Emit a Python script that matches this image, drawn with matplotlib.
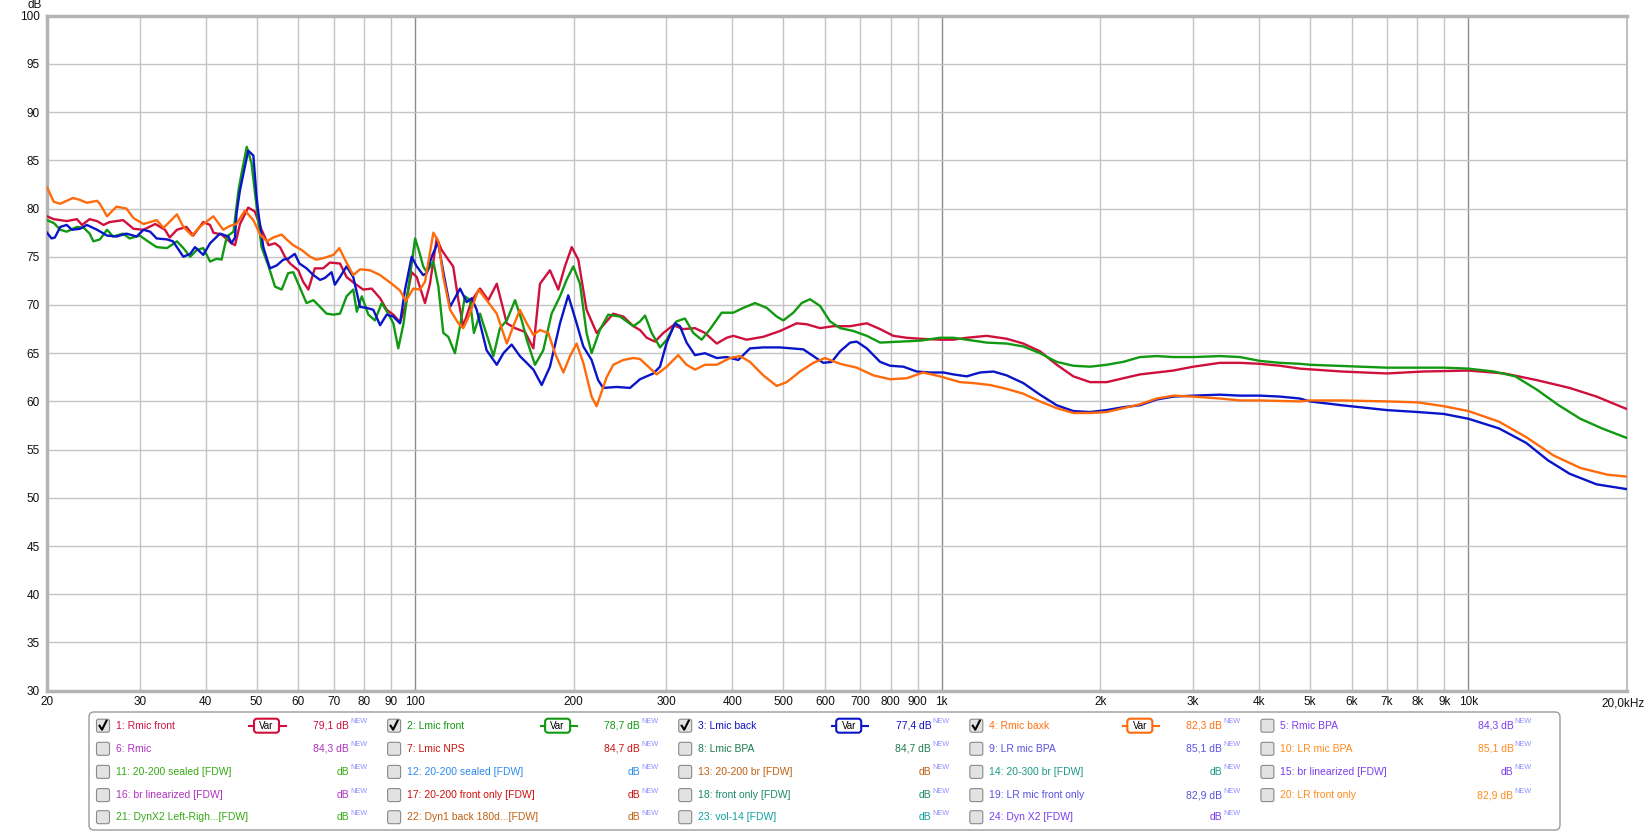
import matplotlib.pyplot as plt
from matplotlib.patches import FancyBboxPatch
from matplotlib.ticker import NullLocator

W, H = 1649, 832

# measured curves, (Hz, dB)
rmic_front = [(20.0,79.2),(20.6,78.9),(21.8,78.7),(22.8,78.9),(23.3,78.3),(24.1,78.9),(24.9,78.7),(25.6,78.3),
    (26.3,78.6),(27.9,78.8),(29.2,77.9),(30.5,77.8),(32.1,78.4),(33.5,77.8),(34.2,77.0),(35.3,77.8),(36.8,78.1),
    (37.9,77.2),(39.6,78.6),(40.8,78.3),(41.4,77.5),(42.9,77.3),(44.8,76.4),(45.5,76.2),(46.5,78.4),(48.2,80.1),
    (49.6,79.7),(51.1,77.8),(52.7,76.2),(54.2,76.4),(55.4,76.0),(56.6,75.0),(57.9,74.3),(60.0,73.6),(61.3,72.4),
    (62.7,71.6),(64.5,73.8),(66.9,73.8),(68.9,74.4),(72.0,74.3),(74.1,72.9),(76.9,72.2),(79.7,71.6),(82.7,71.7),
    (85.8,70.7),(88.3,69.5),(90.9,69.0),(93.6,68.2),(95.7,69.8),(98.5,73.4),(100.7,72.9),(104.4,70.2),(106.7,72.2),
    (109.9,76.9),(112.3,75.7),(115.6,74.7),(118.1,74.0),(120.8,70.5),(123.4,67.8),(128.1,70.5),(132.8,71.7),
    (137.7,70.5),(142.9,72.2),(149.3,68.1),(154.8,67.6),(161.7,67.2),(167.7,65.5),(172.6,72.2),(180.3,73.6),
    (187.0,71.6),(192.5,74.0),(198.3,76.0),(204.1,74.7),(211.6,69.5),(221.1,67.1),(227.6,67.9),(237.8,69.1),
    (248.5,68.8),(259.7,67.8),(267.3,67.4),(275.3,66.6),(285.4,66.2),(296.0,67.1),(309.2,67.9),(323.0,67.5),
    (339.9,67.6),(355.1,67.1),(373.8,66.0),(390.5,66.6),(401.9,66.8),(426.1,66.4),(458.2,66.7),(492.9,67.3),
    (530.3,68.1),(554.1,68.0),(587.3,67.6),(622.3,67.8),(669.8,67.8),(720.5,68.1),(763.6,67.5),(809.3,66.8),
    (857.6,66.6),(908.9,66.5),(992,66.4),(1052,66.4),(1115,66.6),(1217,66.8),(1328,66.5),(1428,66.0),(1536,65.2),
    (1653,63.8),(1777,62.6),(1912,62.0),(2056,62.0),(2211,62.4),(2378,62.8),(2558,63.0),(2751,63.2),(3002,63.6),
    (3373,64.0),(3682,64.0),(4018,63.9),(4386,63.7),(4786,63.4),(5750,63.1),(7000,62.9),(8200,63.1),(10000,63.2),
    (11700,62.9),(13500,62.2),(15560,61.4),(17510,60.5),(20000,59.2)]

lmic_front = [(20.0,78.8),(20.6,78.5),(21.2,77.8),(21.8,77.6),(22.8,78.1),(23.5,78.0),(24.1,77.4),(24.5,76.6),
    (25.2,76.8),(26.0,77.8),(26.7,77.1),(27.9,77.4),(28.7,76.9),(30.0,77.2),(30.9,76.7),(32.3,76.0),(33.8,75.9),
    (35.3,76.6),(36.3,75.9),(37.4,75.0),(38.5,75.7),(39.6,75.9),(40.8,74.5),(42.0,74.8),(42.9,74.7),(43.9,77.1),
    (45.2,77.6),(46.2,81.9),(46.8,83.6),(47.9,86.4),(48.9,84.7),(50.0,80.2),(51.1,76.0),(52.7,74.0),(54.2,71.9),
    (55.8,71.6),(57.4,73.3),(58.7,73.4),(60.0,72.2),(62.2,70.2),(64.1,70.5),(66.0,69.8),(67.9,69.1),(70.0,69.0),
    (72.0,69.1),(74.1,70.9),(76.3,71.6),(77.5,69.3),(79.2,70.9),(81.5,69.0),(83.9,68.4),(86.4,70.2),(88.9,69.1),
    (90.9,68.1),(92.9,65.5),(95.0,68.0),(96.4,70.5),(100.0,76.9),(102.1,75.3),(103.6,74.0),(105.2,73.4),
    (108.3,74.5),(110.7,71.9),(113.1,67.1),(115.6,66.7),(119.0,65.0),(121.7,67.8),(124.3,70.9),(127.1,70.5),
    (129.3,67.1),(132.8,69.1),(137.7,66.4),(140.8,64.7),(144.9,67.6),(149.3,68.4),(154.8,70.5),(159.4,68.4),
    (162.9,66.4),(168.9,63.8),(175.1,65.3),(181.6,69.1),(188.4,70.9),(193.9,72.6),(199.7,74.0),(205.6,72.2),
    (211.6,67.1),(216.3,65.0),(224.2,67.4),(232.6,69.0),(244.9,68.8),(259.7,67.8),(267.3,68.3),(273.3,68.9),
    (281.3,67.1),(291.7,65.6),(300.4,66.4),(313.5,68.3),(325.3,68.6),(337.4,67.1),(350.0,66.4),(363.1,67.5),
    (382.0,69.2),(401.9,69.2),(419.9,69.7),(442,70.2),(465.1,69.7),(485.9,68.8),(500.2,68.4),(522.5,69.2),
    (542,70.2),(562,70.6),(587.3,69.9),(613.4,68.3),(641.1,67.6),(679.6,67.3),(720.5,66.8),(763.6,66.1),
    (833.3,66.2),(908.9,66.3),(992,66.6),(1052,66.6),(1115,66.4),(1217,66.1),(1328,66.0),(1428,65.7),(1536,65.0),
    (1653,64.1),(1777,63.7),(1912,63.6),(2056,63.8),(2211,64.1),(2378,64.6),(2558,64.7),(2751,64.6),(3002,64.6),
    (3373,64.7),(3682,64.6),(4018,64.2),(4386,64.0),(4786,63.9),(5000,63.8),(7000,63.5),(8980,63.5),(10000,63.4),
    (11170,63.1),(12270,62.6),(13500,61.2),(14840,59.6),(16310,58.2),(17930,57.2),(20000,56.2)]

lmic_back = [(20.0,77.5),(20.4,76.9),(20.7,77.0),(21.2,78.1),(21.8,78.3),(22.3,77.8),(23.1,77.9),(23.8,78.3),
    (24.9,77.8),(26.0,77.2),(27.1,77.1),(28.3,77.4),(29.6,77.1),(30.5,77.8),(31.4,77.6),(32.3,76.9),(33.8,76.8),
    (34.7,76.6),(36.3,75.0),(37.4,75.3),(38.2,76.0),(39.6,75.2),(40.8,76.4),(42.6,77.4),(44.2,77.1),(44.8,76.4),
    (45.5,77.0),(45.8,79.5),(46.5,81.9),(47.5,84.3),(48.2,86.0),(49.3,85.5),(50.0,81.2),(50.4,79.5),(51.5,76.0),
    (53.0,73.8),(54.6,74.1),(56.2,74.7),(57.4,74.8),(59.1,75.3),(60.3,74.3),(62.2,73.8),(64.1,73.1),(66.0,72.6),
    (67.4,72.8),(69.4,73.4),(70.4,72.1),(72.0,72.9),(74.1,74.0),(76.3,72.9),(78.6,69.8),(80.9,69.7),(83.3,69.5),
    (85.8,67.9),(88.3,69.0),(90.9,68.8),(93.6,68.1),(95.7,71.6),(98.5,75.0),(100.7,74.0),(103.6,73.1),(105.2,73.3),
    (107.5,75.0),(110.5,76.5),(113.5,73.0),(116.5,69.8),(121.7,71.7),(125.3,70.3),(128.1,70.7),(130.9,69.5),
    (136.7,65.3),(142.9,63.8),(147.1,65.0),(152.5,65.9),(158.1,64.7),(167.7,63.3),(173.9,61.7),(180.3,63.6),
    (188.4,68.1),(195.3,71.0),(202.6,68.1),(208.6,65.7),(216.3,64.3),(222.6,62.2),(227.6,61.4),(241.4,61.5),
    (255.9,61.4),(267.3,62.3),(283.3,62.9),(291.7,63.6),(300.4,66.1),(311.4,68.1),(318.3,67.8),(327.7,66.1),
    (339.9,64.8),(355.1,65.0),(373.8,64.5),(390.5,64.6),(410.8,64.3),(432.3,65.5),(458.2,65.6),(492.9,65.6),
    (545.8,65.4),(570.2,64.7),(595.8,64.0),(618.1,64.1),(641.1,65.2),(669.8,66.1),(689.6,66.2),(720.5,65.5),
    (763.6,64.1),(797.7,63.7),(845.5,63.6),(896.3,63.1),(950.1,63.0),(1006.9,63.0),(1052,62.8),(1115,62.6),
    (1182,63.0),(1253,63.1),(1328,62.7),(1428,61.9),(1536,60.7),(1653,59.6),(1777,59.0),(1912,58.9),(2056,59.1),
    (2211,59.4),(2378,59.6),(2558,60.2),(2751,60.5),(3002,60.6),(3373,60.7),(3682,60.6),(4018,60.6),(4386,60.5),
    (4786,60.3),(5000,60.0),(5750,59.6),(7000,59.1),(8010,58.9),(8980,58.7),(10000,58.2),(11430,57.2),
    (12870,55.7),(14150,53.9),(15560,52.5),(17510,51.4),(20000,50.9)]

rmic_baxk = [(20.0,82.2),(20.6,80.7),(21.2,80.5),(22.4,81.1),(23.1,80.9),(23.8,80.6),(24.9,80.8),(25.2,80.5),
    (26.0,79.2),(27.1,80.2),(28.3,80.0),(29.2,79.0),(30.5,78.4),(32.3,78.8),(33.3,78.0),(35.3,79.4),(36.3,78.1),
    (37.7,77.2),(39.0,78.1),(41.4,79.2),(43.2,77.8),(44.5,78.2),(45.8,78.4),(47.5,79.8),(49.3,78.8),(50.8,77.3),
    (52.3,76.6),(53.8,77.0),(55.8,77.3),(57.0,76.8),(58.7,76.2),(60.9,75.7),(63.2,75.0),(65.0,74.7),(67.4,74.9),
    (70.0,75.2),(71.8,75.9),(73.6,74.7),(76.3,73.1),(78.6,73.7),(82.1,73.6),(85.8,73.1),(88.3,72.6),(90.3,72.2),
    (93.6,71.5),(96.0,70.4),(99.2,71.7),(102.1,71.6),(104.4,72.4),(108.3,77.5),(110.7,76.6),(113.1,72.9),
    (116.5,69.5),(120.8,68.1),(123.4,67.6),(126.4,68.8),(131.9,71.6),(136.7,70.5),(142.9,69.1),(149.3,66.0),
    (153.6,67.8),(158.1,69.5),(162.9,68.1),(167.7,66.9),(172.6,67.4),(179.0,67.1),(184.3,65.0),(191.2,63.0),
    (196.8,64.7),(202.6,66.0),(208.6,64.0),(216.3,60.5),(221.1,59.5),(231.0,62.5),(237.8,63.8),(248.5,64.3),
    (259.7,64.5),(267.3,64.4),(277.2,63.6),(287.5,62.8),(300.4,63.6),(315.8,64.8),(327.7,63.8),(339.9,63.3),
    (355.1,63.8),(373.8,63.8),(396.2,64.5),(413.9,64.7),(432.3,64.1),(458.2,62.7),(485.9,61.6),(507.6,62.0),
    (538,63.1),(570.2,64.0),(600.2,64.5),(641.1,63.9),(689.6,63.5),(741.4,62.7),(797.7,62.3),(857.6,62.4),
    (921.7,63.0),(992,62.6),(1083,62.0),(1148,61.9),(1235,61.7),(1328,61.3),(1428,60.8),(1536,60.0),(1653,59.3),
    (1777,58.8),(1912,58.8),(2056,58.9),(2211,59.3),(2378,59.7),(2558,60.3),(2751,60.6),(3002,60.5),(3373,60.3),
    (3682,60.1),(4018,60.1),(4786,60.0),(5000,60.1),(5750,60.1),(7000,60.0),(8010,59.9),(8980,59.5),(10000,59.0),
    (11430,57.9),(12870,56.3),(14500,54.4),(16310,53.1),(18360,52.4),(20000,52.2)]

curve_colors = ['#d0103c', '#119911', '#0a14c8', '#ff6a0a']

x_ticks = [20, 30, 40, 50, 60, 70, 80, 90, 100, 200, 300, 400, 500, 600, 700, 800, 900,
           1000, 2000, 3000, 4000, 5000, 6000, 7000, 8000, 9000, 10000]
x_labels = ['20', '30', '40', '50', '60', '70', '80', '90', '100', '200', '300', '400', '500', '600',
            '700', '800', '900', '1k', '2k', '3k', '4k', '5k', '6k', '7k', '8k', '9k', '10k']
y_ticks = [30, 35, 40, 45, 50, 55, 60, 65, 70, 75, 80, 85, 90, 95, 100]

legend_names = ['1: Rmic front', '2: Lmic front', '3: Lmic back', '4: Rmic baxk', '5: Rmic BPA',
                '6: Rmic', '7: Lmic NPS', '8: Lmic BPA', '9: LR mic BPA', '10: LR mic BPA',
                '11: 20-200 sealed [FDW]', '12: 20-200 sealed [FDW]', '13: 20-200 br [FDW]',
                '14: 20-300 br [FDW]', '15: br linearized [FDW]',
                '16: br linearized [FDW]', '17: 20-200 front only [FDW]', '18: front only [FDW]',
                '19: LR mic front only', '20: LR front only',
                '21: DynX2 Left-Righ...[FDW]', '22: Dyn1 back 180d...[FDW]', '23: vol-14 [FDW]',
                '24: Dyn X2 [FDW]']
legend_values = ['79,1', '78,7', '77,4', '82,3', '84,3', '84,3', '84,7', '84,7', '85,1', '85,1',
                 '', '', '', '', '', '', '', '', '82,9', '82,9', '', '', '', '']
legend_colors = ['#cc1040', '#119911', '#1010c8', '#ff7010', '#7a3cf0',
                 '#b030c0', '#d01010', '#1a7a50', '#5a50e0', '#ff8c1a',
                 '#33aa11', '#2a8aee', '#c06010', '#1a9a8a', '#7a3cf0',
                 '#b030c0', '#d01010', '#1a8a6a', '#5a50e0', '#ff8c1a',
                 '#33aa11', '#c06010', '#10a0a0', '#7a3cf0']

plt.rcParams['font.family'] = ['Liberation Sans', 'DejaVu Sans']

fig = plt.figure(figsize=(W / 100, H / 100), dpi=100, facecolor='white')
ov = fig.add_axes([0, 0, 1, 1])
ov.set_xlim(0, W)
ov.set_ylim(H, 0)
ov.axis('off')

ax = fig.add_axes([47 / W, 1 - 690.7 / H, 1580 / W, 675 / H])
ax.set_xscale('log')
ax.set_xlim(20, 20000)
ax.set_ylim(30, 100)

# grid
for f in x_ticks[1:]:
    dark = f in (100, 1000, 10000)
    ax.axvline(f, color='#8c8c8c' if dark else '#c4c4c4', lw=1.0, zorder=1)
for v in y_ticks[1:-1]:
    ax.axhline(v, color='#c4c4c4', lw=1.0, zorder=1)

for data, c, z in zip([rmic_front, lmic_front, lmic_back, rmic_baxk], curve_colors, [3, 4, 5, 6]):
    hz = [p[0] for p in data]
    db = [p[1] for p in data]
    ax.plot(hz, db, color=c, lw=1.7, zorder=z, solid_joinstyle='round')

ax.set_xticks(x_ticks)
ax.set_xticklabels(x_labels)
ax.xaxis.set_minor_locator(NullLocator())
ax.set_yticks(y_ticks)
ax.set_yticklabels([str(v) for v in y_ticks])
ax.tick_params(length=0, labelsize=8.5, colors='#111111')
ax.tick_params(axis='x', pad=4)
ax.tick_params(axis='y', pad=5)
for s in ['left', 'top', 'bottom']:
    ax.spines[s].set_color('#b4b4b4')
    ax.spines[s].set_linewidth(2.5)
ax.spines['right'].set_color('#c0c0c0')
ax.spines['right'].set_linewidth(1.5)

ov.text(1645, 703, '20,0kHz', ha='right', va='center', fontsize=8.5, color='#111111')
ov.text(35, 5, 'dB', ha='center', va='center', fontsize=8.5, color='#111111')

# legend panel
ov.add_patch(FancyBboxPatch((89, 712), 1471, 118, boxstyle='round,pad=0,rounding_size=5',
                            fc='white', ec='#9a9a9a', lw=1.0))
col_x = [103 + 291.1 * i for i in range(5)]
row_y = [725.7, 748.8, 771.9, 795.1, 817.2]
for i, name in enumerate(legend_names):
    r, c = divmod(i, 5)
    x0, y0 = col_x[c], row_y[r]
    color = legend_colors[i]
    ov.add_patch(FancyBboxPatch((x0 - 6.5, y0 - 6.5), 13, 13, boxstyle='round,pad=0,rounding_size=2',
                                fc='#e2e2e2', ec='#8a8a8a', lw=0.8))
    if i < 4:
        ov.plot([x0 - 3.5, x0 - 1, x0 + 3.5], [y0, y0 + 4, y0 - 5], color='black', lw=1.5)
        ov.plot([x0 + 146.5, x0 + 183], [y0, y0], color=curve_colors[i], lw=1.5)
        ov.add_patch(FancyBboxPatch((x0 + 151, y0 - 7), 25, 14, boxstyle='round,pad=0,rounding_size=3',
                                    fc='white', ec=curve_colors[i], lw=1.5, zorder=3))
        ov.text(x0 + 163.5, y0, 'Var', ha='center', va='center', fontsize=7, color='black', zorder=4)
    ov.text(x0 + 13, y0, name, color=color, fontsize=7.5, va='center', ha='left')
    val = (legend_values[i] + ' dB') if legend_values[i] else 'dB'
    ov.text(x0 + 246, y0, val, color=color, fontsize=7.5, va='center', ha='right')
    ov.text(x0 + 247, y0 - 4, 'NEW', color='#8f8fff', fontsize=5.3, va='center', ha='left')

fig.savefig('out.png', dpi=100, facecolor='white')
